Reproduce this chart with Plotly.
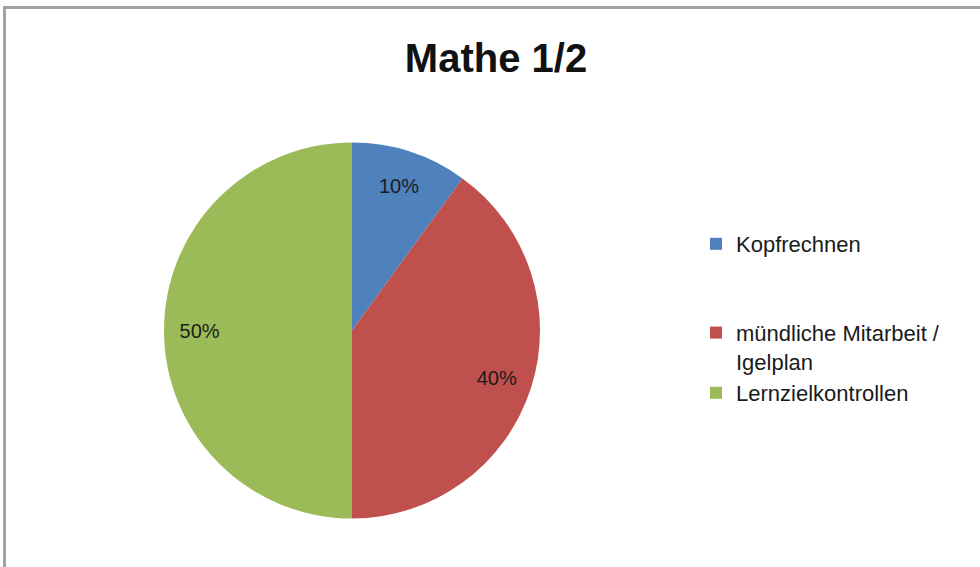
import plotly.graph_objects as go

# Data
categories = ["Kopfrechnen", "mündliche Mitarbeit / Igelplan", "Lernzielkontrollen"]
shares = [10, 40, 50]
colors = ["#4F81BD", "#C0504D", "#9BBB59"]
title_text = "Mathe 1/2"

W, H = 980, 567

# legend text with the line breaks / spacing of the original
legend_labels = [
    "Kopfrechnen<br> <br> ",
    "mündliche Mitarbeit /<br>Igelplan",
    "Lernzielkontrollen",
]

# pie placement (pixels -> paper)
cx, cy, r = 352, 330.5, 188
dom_x = [(cx - r) / W, (cx + r) / W]
dom_y = [1 - (cy + r) / H, 1 - (cy - r) / H]

fig = go.Figure()

# the pie itself
fig.add_trace(go.Pie(
    labels=legend_labels,
    values=shares,
    sort=False,
    direction="clockwise",
    rotation=0,
    marker=dict(colors=colors, line=dict(width=0)),
    textinfo="none",
    hoverinfo="label+percent",
    domain=dict(x=dom_x, y=dom_y),
    showlegend=True,
))

# transparent ring on top, only to place the percent labels at ~0.8 r
fig.add_trace(go.Pie(
    labels=legend_labels,
    values=shares,
    sort=False,
    direction="clockwise",
    rotation=0,
    hole=0.62,
    marker=dict(colors=["rgba(0,0,0,0)"] * len(shares), line=dict(width=0)),
    textinfo="percent",
    texttemplate="%{percent:.0%}",
    textposition="inside",
    insidetextorientation="horizontal",
    textfont=dict(family="Liberation Sans, Arial, sans-serif", size=20, color="#1c1c1c"),
    hoverinfo="skip",
    domain=dict(x=dom_x, y=dom_y),
    showlegend=False,
))

# grey frame (top and left edges visible in the original crop)
fig.add_shape(type="rect", xref="paper", yref="paper",
              x0=4.5 / W, x1=1.05, y0=-0.05, y1=1 - 7.5 / H,
              line=dict(color="#a2a2a2", width=3))

fig.update_layout(
    width=W, height=H,
    margin=dict(l=0, r=0, t=0, b=0),
    paper_bgcolor="white",
    plot_bgcolor="white",
    title=dict(
        text="<b>" + title_text + "</b>",
        x=496 / W, xanchor="center",
        y=1 - 58 / H, yanchor="middle",
        yref="container",
        font=dict(family="Liberation Sans, Arial, sans-serif", size=40, color="#111111"),
    ),
    legend=dict(
        x=696 / W, xanchor="left",
        y=1 - 223 / H, yanchor="top",
        valign="top",
        font=dict(family="Liberation Sans, Arial, sans-serif", size=22, color="#1a1a1a"),
        bgcolor="rgba(0,0,0,0)",
        itemclick=False,
    ),
)

# drop the default 8px body margin so the figure sits at the page corner
fig.write_html("out.html", config={"displayModeBar": False},
               post_script="document.body.style.margin='0';")
